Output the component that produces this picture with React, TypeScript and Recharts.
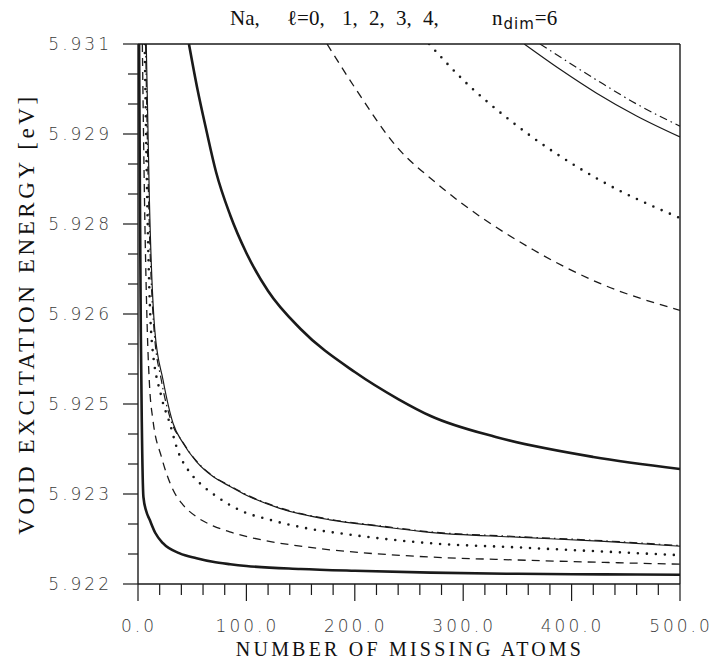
import React from "react";
import { LineChart, Line, XAxis, YAxis } from "recharts";

// axis ticks (minor every 20 atoms / 0.0005 eV, labels on the major ones)
const xTicks = [0, 20, 40, 60, 80, 100, 120, 140, 160, 180, 200, 220, 240, 260, 280, 300, 320, 340, 360, 380, 400, 420, 440, 460, 480, 500];
const xTickLabels = ["0.0", "100.0", "200.0", "300.0", "400.0", "500.0"];
const yTicks = [5.922, 5.9225, 5.923, 5.9235, 5.924, 5.9245, 5.925, 5.9255, 5.926, 5.9265, 5.927, 5.9275, 5.928, 5.9285, 5.929, 5.9295, 5.93, 5.9305, 5.931];
const yTickLabels = ["5.922", "5.923", "5.925", "5.926", "5.928", "5.929", "5.931"];

// lower branch [N, E(eV)], l = 0..4
const lowL0 = [[1.0, 5.931], [1.8, 5.9284], [2.6, 5.9262], [3.5, 5.9247], [5.0, 5.92345], [7.5, 5.92322], [10.8, 5.92307], [16, 5.92285], [23, 5.92268], [38.5, 5.92251], [54, 5.92243], [69, 5.92237], [85, 5.92233], [100, 5.9223], [150, 5.92225], [200, 5.92222], [270, 5.92219], [350, 5.92217], [430, 5.92216], [500, 5.922155]];
const lowL1 = [[4.0, 5.931], [6.0, 5.9284], [8.7, 5.92615], [10.8, 5.92526], [13.8, 5.92473], [21.6, 5.92412], [32.3, 5.92357], [41.5, 5.92332], [53.9, 5.92312], [69.2, 5.92297], [84.6, 5.92287], [115.4, 5.92273], [146.2, 5.92264], [177, 5.92257], [207.7, 5.92252], [269.2, 5.92245], [350, 5.9224], [430, 5.92236], [500, 5.92233]];
const lowL2 = [[6.2, 5.931], [8.5, 5.9284], [12.6, 5.92607], [21.6, 5.92512], [29.3, 5.92468], [36.9, 5.92421], [46.2, 5.9239], [57, 5.92368], [72.4, 5.92346], [93.9, 5.92323], [121.6, 5.92307], [155.4, 5.92293], [192.4, 5.92283], [238.5, 5.92273], [269.2, 5.92268], [350, 5.92261], [430, 5.92254], [500, 5.92248]];
const lowL3 = [[7.6, 5.931], [10.5, 5.9284], [15.5, 5.92623], [23.1, 5.9254], [32.3, 5.92468], [41.5, 5.92435], [53.9, 5.92404], [69.2, 5.92379], [84.6, 5.92363], [100, 5.92348], [130.8, 5.92326], [177, 5.92307], [223, 5.92296], [269.2, 5.92286], [350, 5.92278], [430, 5.92271], [500, 5.92263]];
const lowL4 = [[7.0, 5.931], [9.8, 5.9284], [14.8, 5.92623], [21.5, 5.9254], [30.5, 5.92472], [41.5, 5.92436], [53.9, 5.92405], [69.2, 5.9238], [84.6, 5.92364], [100, 5.92349], [130.8, 5.92327], [177, 5.92308], [223, 5.92297], [269.2, 5.92287], [350, 5.92279], [430, 5.92272], [500, 5.92264]];

// upper branch [N, E(eV)], l = 0..4
const upL0 = [[47, 5.931], [55, 5.930233], [63, 5.929567], [72, 5.928867], [85, 5.92815], [100, 5.927517], [120, 5.926883], [150, 5.92625], [200, 5.925533], [240, 5.925083], [270, 5.9248], [330, 5.92445], [420, 5.924117], [500, 5.923917]];
const upL1 = [[174.4, 5.931], [201.6, 5.93023], [238.5, 5.92929], [275.4, 5.92868], [364.6, 5.92757], [426.2, 5.92701], [500, 5.92656]];
const upL2 = [[268.6, 5.931], [300, 5.9304], [343.1, 5.92973], [426.2, 5.92873], [500, 5.9281]];
const upL3 = [[356.3, 5.931], [390, 5.93057], [423.1, 5.93018], [460, 5.9298], [500, 5.92945]];
const upL4 = [[370.8, 5.931], [423.1, 5.9304], [460, 5.93], [500, 5.92963]];

const pts = (a: number[][]) => a.map(([n, e]) => ({ n, e }));

const INK = "#1a1a1a";
const styles = [
  { strokeWidth: 2.6 },
  { strokeWidth: 1.3, strokeDasharray: "8 6" },
  { strokeWidth: 2.6, strokeDasharray: "0 9", strokeLinecap: "round" as const },
  { strokeWidth: 1.2 },
  { strokeWidth: 1.2, strokeDasharray: "8 4 1.5 4" },
];
const series = [lowL0, lowL1, lowL2, lowL3, lowL4, upL0, upL1, upL2, upL3, upL4];

const tickFont = { fontFamily: "DejaVu Sans, Liberation Sans, sans-serif", fontSize: 17, fontWeight: 200, letterSpacing: 3, fill: "#3a3a3a" };

const XTick = (props: any) => {
  const { x, y, payload } = props;
  const v = payload.value;
  const major = v % 100 === 0;
  return (
    <g>
      <line x1={x} x2={x} y1={y} y2={y + (major ? 17 : 11)} stroke={INK} strokeWidth={1.2} />
      {major && (
        <text x={x + 1} y={y + 48} textAnchor="middle" {...tickFont}>
          {xTickLabels[v / 100]}
        </text>
      )}
    </g>
  );
};

const YTick = (props: any) => {
  const { x, y, payload } = props;
  const idx = Math.round((payload.value - 5.922) / 0.0005);
  const major = idx % 3 === 0;
  return (
    <g>
      <line x1={x} x2={x - (major ? 15 : 10)} y1={y} y2={y} stroke={INK} strokeWidth={1.2} />
      {major && (
        <text x={x - 26} y={y + 6} textAnchor="end" {...tickFont}>
          {yTickLabels[idx / 3]}
        </text>
      )}
    </g>
  );
};

const serif = "Liberation Serif, DejaVu Serif, serif";

export default function App() {
  return (
    <div style={{ position: "absolute", left: 0, top: 0, width: 715, height: 660, background: "#fff" }}>
      <LineChart width={715} height={660} margin={{ top: 43, right: 34, bottom: 6, left: 68 }}>
        <XAxis
          dataKey="n"
          type="number"
          domain={[0, 500]}
          ticks={xTicks}
          interval={0}
          allowDataOverflow
          height={70}
          tickSize={0}
          tickMargin={0}
          tickLine={false}
          axisLine={{ stroke: INK, strokeWidth: 1.4 }}
          tick={<XTick />}
        />
        <XAxis xAxisId="top" orientation="top" type="number" domain={[0, 500]} height={1} tick={false} tickLine={false} axisLine={{ stroke: INK, strokeWidth: 1.4 }} />
        <YAxis
          type="number"
          domain={[5.922, 5.931]}
          ticks={yTicks}
          interval={0}
          allowDataOverflow
          width={70}
          tickSize={0}
          tickMargin={0}
          tickLine={false}
          axisLine={{ stroke: INK, strokeWidth: 1.4 }}
          tick={<YTick />}
        />
        <YAxis yAxisId="right" orientation="right" type="number" domain={[5.922, 5.931]} width={1} tick={false} tickLine={false} axisLine={{ stroke: INK, strokeWidth: 1.4 }} />
        {series.map((s, i) => (
          <Line
            key={i}
            data={pts(s)}
            dataKey="e"
            type="monotone"
            stroke={INK}
            fill="none"
            dot={false}
            activeDot={false}
            isAnimationActive={false}
            {...styles[i % 5]}
          />
        ))}
      </LineChart>
      <svg width={715} height={660} style={{ position: "absolute", left: 0, top: 0, pointerEvents: "none" }}>
        <text y={25} fontFamily={serif} fontSize={21} fill="#111">
          <tspan x={230}>Na,</tspan>
          <tspan x={287}>{"\u2113=0,"}</tspan>
          <tspan x={342}>1,</tspan>
          <tspan x={369}>2,</tspan>
          <tspan x={396}>3,</tspan>
          <tspan x={423}>4,</tspan>
          <tspan x={492}>n</tspan>
          <tspan dx={1} dy={4} fontFamily="DejaVu Sans, sans-serif" fontSize={15} letterSpacing={1}>dim</tspan>
          <tspan dy={-4}>=6</tspan>
        </text>
        <text x={410} y={656} textAnchor="middle" fontFamily={serif} fontSize={20} letterSpacing={3.2} fill="#111">
          NUMBER OF MISSING ATOMS
        </text>
        <text x={0} y={0} transform="translate(34,314) rotate(-90)" textAnchor="middle" fontFamily={serif} fontSize={23} letterSpacing={3.6} fill="#111">
          VOID EXCITATION ENERGY [eV]
        </text>
      </svg>
    </div>
  );
}
